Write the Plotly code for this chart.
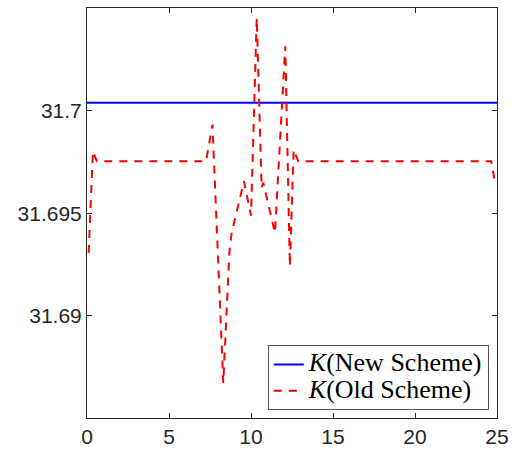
import plotly.graph_objects as go

# Data
x_new = [0, 25]
k_new = [31.7004, 31.7004]

x_old = [0.1, 0.36, 0.6, 7.26, 7.65, 8.31, 8.68, 8.82, 9.57, 10.0, 10.35, 10.65, 10.75,
         11.46, 12.09, 12.37, 12.6, 12.88, 24.65, 24.9]
k_old = [31.69307, 31.69803, 31.69754, 31.69754, 31.69933, 31.68673, 31.69307, 31.69405,
         31.69657, 31.69489, 31.70454, 31.69624, 31.6965, 31.69405, 31.70315, 31.69242,
         31.69811, 31.69754, 31.69754, 31.6964]

x_ticks = [0, 5, 10, 15, 20, 25]
y_ticks = [31.69, 31.695, 31.7]
y_tick_text = ["31.69", "31.695", "31.7"]

name_new = '<span style="font-size:26px"><i>K</i>(New Scheme)</span>'
name_old = '<span style="font-size:26px"><i>K</i>(Old Scheme)</span>'

fig = go.Figure()
fig.add_trace(go.Scatter(x=x_new, y=k_new, mode="lines",
                         line=dict(color="#0000ff", width=2),
                         name=name_new))
fig.add_trace(go.Scatter(x=x_old, y=k_old, mode="lines",
                         line=dict(color="#ff0000", width=2, dash="8px,7px"),
                         name=name_old))

axis_common = dict(showline=True, mirror="ticks", linecolor="#262626", linewidth=1,
                   ticks="inside", ticklen=5, tickcolor="#262626", showgrid=False,
                   zeroline=False,
                   tickfont=dict(family="Liberation Sans, Arial", size=21, color="#262626"))

fig.update_xaxes(range=[0, 25], tickvals=x_ticks, **axis_common)
fig.update_yaxes(range=[31.68502, 31.70502], tickvals=y_ticks, ticktext=y_tick_text,
                 **axis_common)

fig.update_layout(
    width=521, height=458,
    margin=dict(l=87, r=24, t=8, b=40),
    plot_bgcolor="white", paper_bgcolor="white",
    showlegend=True,
    legend=dict(x=0.98, y=0.019, xanchor="right", yanchor="bottom",
                bgcolor="white", bordercolor="#555555", borderwidth=1,
                font=dict(family="Liberation Serif, Times New Roman", size=18, color="black"),
                tracegroupgap=0, itemwidth=30),
)

fig.write_html("out.html")
